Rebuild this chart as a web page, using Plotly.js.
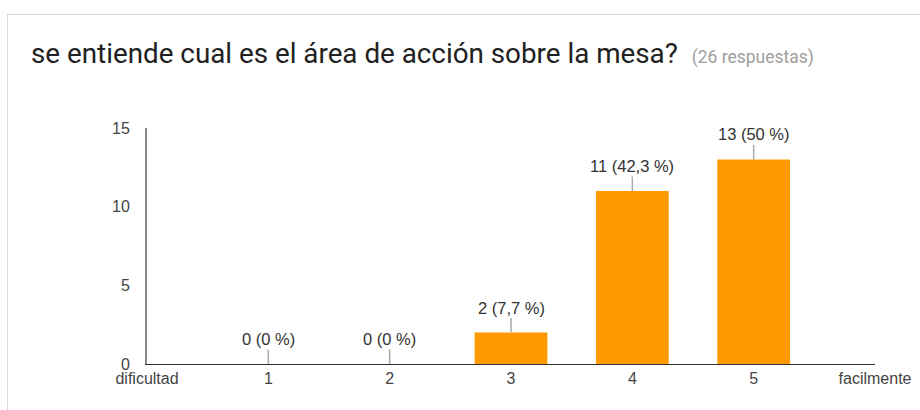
<!DOCTYPE html>
<html>
<head>
<meta charset="utf-8">
<script src="https://cdn.plot.ly/plotly-3.0.1.min.js"></script>
<style>
html,body{margin:0;padding:0;background:#fff;}
#card{position:absolute;left:7px;top:14px;width:1000px;height:500px;border:1px solid #dcdcdc;}
#chart{position:absolute;left:0;top:0;width:920px;height:410px;}
</style>
</head>
<body>
<div id="card"></div>
<div id="chart"></div>
<script>
const titleText = "se entiende cual es el área de acción sobre la mesa?";
const responsesText = "(26 respuestas)";
const categories = [1, 2, 3, 4, 5];
const counts = [0, 0, 2, 11, 13];
const labels = ["0 (0 %)", "0 (0 %)", "2 (7,7 %)", "11 (42,3 %)", "13 (50 %)"];
const tickVals = [0, 1, 2, 3, 4, 5, 6];
const tickText = ["dificultad", "1", "2", "3", "4", "5", "facilmente"];
const yTicks = [0, 5, 10, 15];

const axisFont = {family: "Liberation Sans, Arial, sans-serif", size: 16, color: "#444"};

const trace = {
  type: "bar",
  x: categories,
  y: counts,
  width: 0.6,
  marker: {color: "#ff9900"},
  hoverinfo: "none"
};

const annotations = categories.map((c, i) => ({
  x: c, y: counts[i], xref: "x", yref: "y",
  text: labels[i],
  showarrow: true, arrowhead: 0, arrowwidth: 1.5, arrowcolor: "#aaaaaa",
  ax: 0, ay: -25, standoff: 0,
  font: {family: "Liberation Sans, Arial, sans-serif", size: 16.5, color: "#333"}
}));

const layout = {
  width: 920, height: 410,
  margin: {l: 147, r: 45, t: 128, b: 46},
  paper_bgcolor: "rgba(0,0,0,0)",
  plot_bgcolor: "rgba(0,0,0,0)",
  showlegend: false,
  title: {
    text: titleText + '  <span style="font-size:17.5px;color:#9e9e9e">' + responsesText + '</span>',
    font: {family: "Roboto, sans-serif", size: 27.8, color: "#212121"},
    xref: "container", yref: "container",
    x: 31/920, xanchor: "left",
    y: 1 - 53/410, yanchor: "middle"
  },
  xaxis: {
    range: [0, 6], tickmode: "array", tickvals: tickVals, ticktext: tickText,
    showgrid: false, zeroline: false, showline: true, linecolor: "#333", linewidth: 1,
    ticks: "", tickfont: axisFont, fixedrange: true
  },
  yaxis: {
    range: [0, 15], tickmode: "array", tickvals: yTicks,
    showgrid: false, zeroline: false, showline: true, linecolor: "#8a8a8a", linewidth: 2,
    ticks: "", tickfont: axisFont, ticklabelstandoff: 12, fixedrange: true
  },
  annotations: annotations
};

Plotly.newPlot("chart", [trace], layout, {displayModeBar: false, staticPlot: true});
</script>
</body>
</html>
